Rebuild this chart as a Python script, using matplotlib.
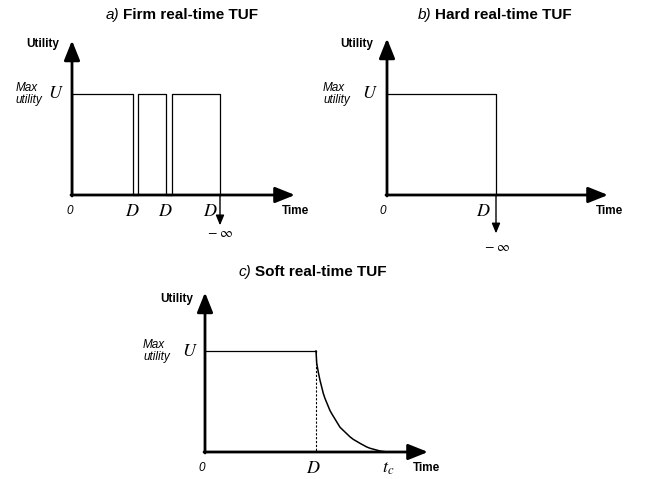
import matplotlib.pyplot as plt

plt.rcParams['font.family'] = ['Liberation Sans', 'DejaVu Sans']
plt.rcParams['mathtext.fontset'] = 'stix'

# data: time in arbitrary units, utility normalised so that U = 1
U_MAX = 1.0
firm_start = [0.0, 6.6, 10.0]
firm_end = [6.1, 9.4, 14.8]
hard_deadline = 10.9
soft_deadline = 11.1
soft_t = [11.1, 11.17, 11.33, 11.5, 11.83, 12.0, 12.5, 12.67, 13.5, 14.5,
          14.83, 15.5, 16.17, 16.5, 17.5, 17.83, 18.3]
soft_u = [1.0, 0.88, 0.79, 0.71, 0.58, 0.53, 0.41, 0.38, 0.245, 0.15,
          0.125, 0.086, 0.05, 0.037, 0.01, 0.005, 0.0]

fig = plt.figure(figsize=(6.45, 4.79), dpi=100)
W, H = 645, 479


def panel(px0, py0, pw, ph, ox, oy):
    # axes over a pixel box, 10 px per time unit, 101 px per utility unit
    ax = fig.add_axes([px0 / W, 1 - (py0 + ph) / H, pw / W, ph / H])
    ax.set_xlim((px0 - ox) / 10, (px0 + pw - ox) / 10)
    ax.set_ylim((oy - py0 - ph) / 101, (oy - py0) / 101)
    ax.axis('off')
    return ax


def axes_arrows(ax, xtip, ytip):
    kw = dict(arrowstyle='-|>,head_length=0.8,head_width=0.32', lw=2.0,
              color='black', shrinkA=0, shrinkB=0, mutation_scale=15)
    ax.annotate('', xy=(xtip, 0), xytext=(-0.1, 0), arrowprops=kw)
    ax.annotate('', xy=(0, ytip), xytext=(0, -0.01), arrowprops=kw)


def down_arrow(ax, x, ytip):
    ax.annotate('', xy=(x, ytip), xytext=(x, 0.0),
                arrowprops=dict(arrowstyle='-|>,head_length=0.6,head_width=0.25',
                                lw=1.0, color='black', shrinkA=0, shrinkB=0,
                                mutation_scale=10))


def labels(ax, xmax, util_y, time_x, util_x, u_x):
    ax.text(xmax, -0.16, 'Time', fontsize=8.5, fontweight='bold', ha='center', va='center')
    ax.text(util_x, util_y, 'Utility', fontsize=8.5, fontweight='bold', ha='center', va='center')
    ax.text(time_x, 1.0, 'Max\nutility', fontsize=8.5, style='italic', ha='left',
            va='center', linespacing=1.0)
    ax.text(u_x, 1.0, '$U$', fontsize=13, ha='center', va='center')


def title(ax, x, y, tag, text):
    ax.text(x - 0.4, y, tag, fontsize=11, style='italic', ha='right', va='center')
    ax.text(x, y, text, fontsize=11, fontweight='bold', ha='left', va='center')


MINF = r'$-\;\infty$'

# a) firm
ax = panel(0, 0, 320, 250, 72, 195)
xs, ys = [], []
for s, e in zip(firm_start, firm_end):
    xs += [s, s, e, e]
    ys += [0, U_MAX, U_MAX, 0]
ax.plot(xs, ys, color='black', lw=0.9)
down_arrow(ax, firm_end[-1], -0.30)
axes_arrows(ax, 22.3, 1.53)
ax.text(-0.2, -0.16, '0', fontsize=8.5, style='italic', ha='center', va='center')
for k, e in enumerate(firm_end):
    ax.text(e - (1.0 if k == len(firm_end) - 1 else 0.05), -0.16, '$D$',
            fontsize=13, ha='center', va='center')
ax.text(firm_end[-1], -0.38, MINF, fontsize=10, ha='center', va='center')
labels(ax, 22.3, 1.5, -5.6, -2.9, -1.6)
title(ax, 5.1, 1.78, 'a)', 'Firm real-time TUF')

# b) hard
ax = panel(320, 0, 325, 250, 387, 195)
ax.plot([0, hard_deadline, hard_deadline], [U_MAX, U_MAX, 0], color='black', lw=0.9)
down_arrow(ax, hard_deadline, -0.38)
axes_arrows(ax, 22.1, 1.55)
ax.text(-0.4, -0.16, '0', fontsize=8.5, style='italic', ha='center', va='center')
ax.text(hard_deadline - 1.3, -0.16, '$D$', fontsize=13, ha='center', va='center')
ax.text(hard_deadline + 0.1, -0.515, MINF, fontsize=10, ha='center', va='center')
labels(ax, 22.2, 1.5, -6.4, -3.0, -1.7)
title(ax, 4.8, 1.78, 'b)', 'Hard real-time TUF')

# c) soft
ax = panel(100, 250, 350, 229, 205, 452)
ax.plot([0, soft_deadline], [U_MAX, U_MAX], color='black', lw=0.9)
ax.plot([soft_deadline, soft_deadline], [U_MAX, 0], color='black', lw=0.8,
        linestyle=(0, (2, 1.5)))
ax.plot(soft_t, soft_u, color='black', lw=1.1)
axes_arrows(ax, 22.3, 1.58)
ax.text(-0.3, -0.16, '0', fontsize=8.5, style='italic', ha='center', va='center')
ax.text(soft_deadline - 0.3, -0.16, '$D$', fontsize=13, ha='center', va='center')
ax.text(soft_t[-1], -0.16, '$t_c$', fontsize=13, ha='center', va='center')
labels(ax, 22.2, 1.51, -6.2, -2.8, -1.5)
title(ax, 5.0, 1.78, 'c)', 'Soft real-time TUF')

fig.savefig('out.png', dpi=100)
